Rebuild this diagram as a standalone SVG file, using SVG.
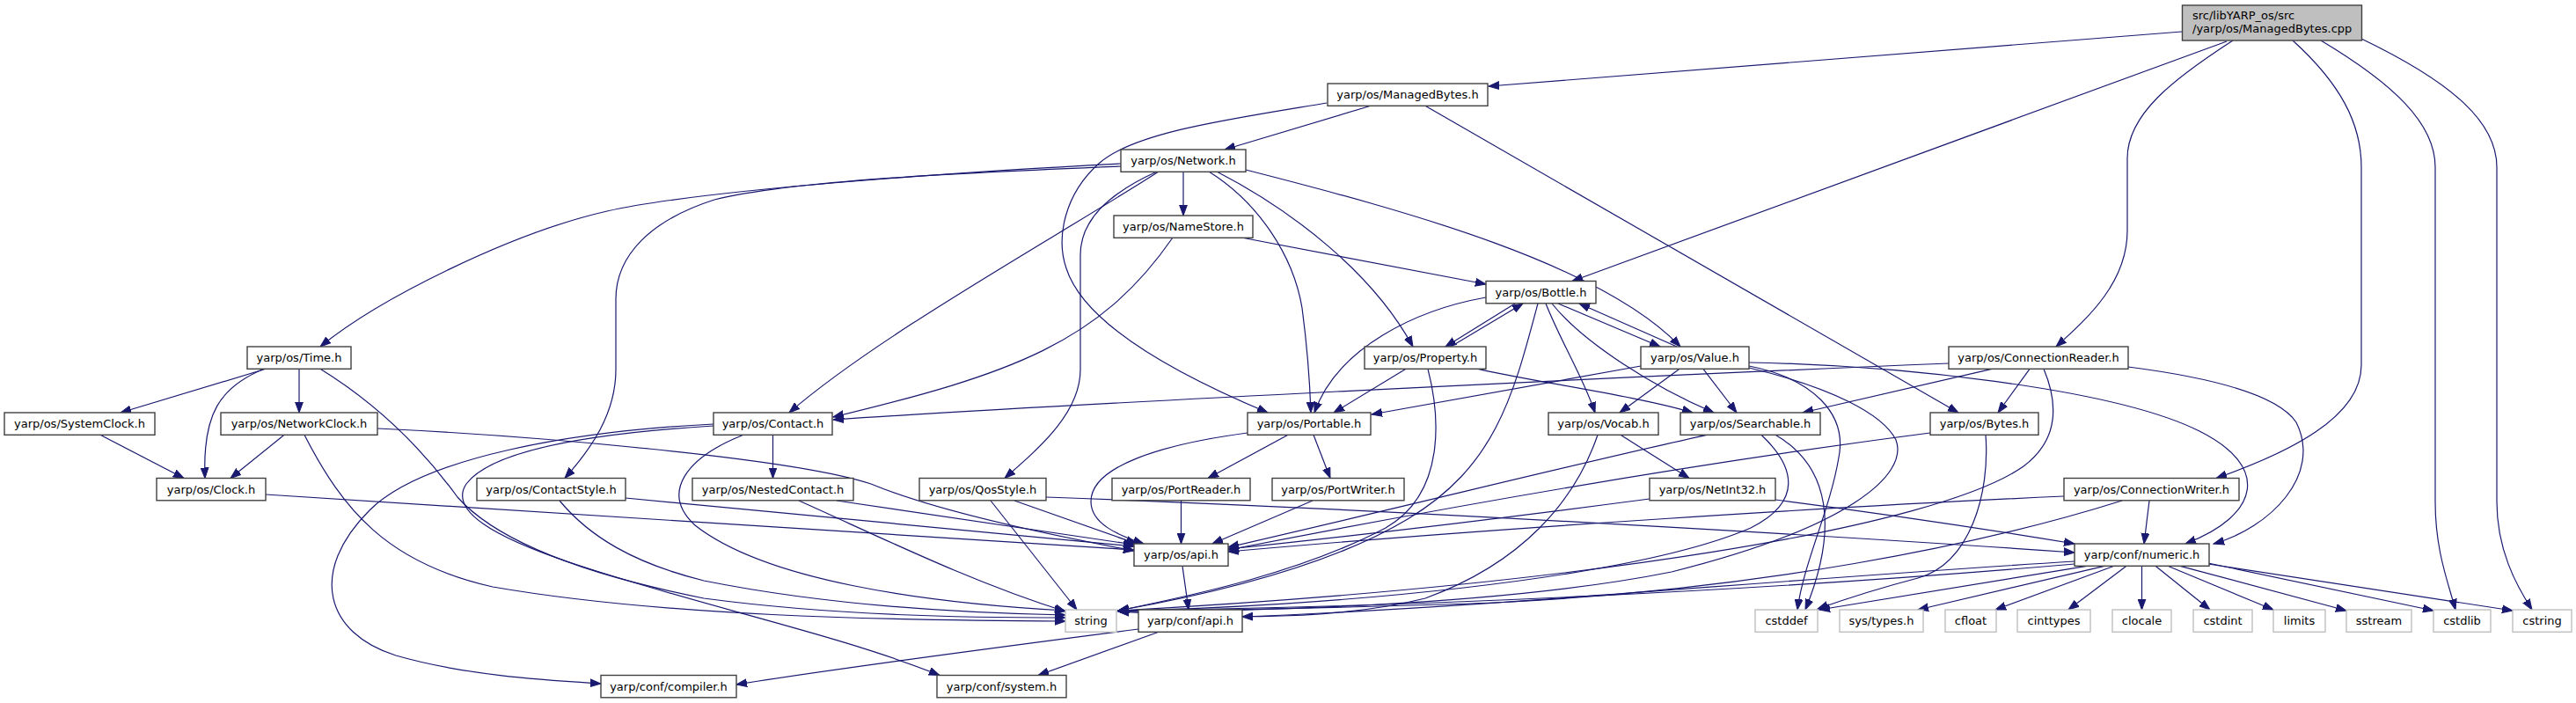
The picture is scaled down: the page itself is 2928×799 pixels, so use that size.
<svg xmlns="http://www.w3.org/2000/svg" width="2928" height="799" viewBox="0 0 2928 799">
<defs>
<style>
.n rect{fill:#fff;stroke:#404040;stroke-width:1.4}
.x rect{fill:#fff;stroke:#bfbfbf;stroke-width:1.4}
.r rect{fill:#bfbfbf;stroke:#404040;stroke-width:1.4}
text{font-family:"DejaVu Sans",Verdana,sans-serif;font-size:13px;fill:#000;text-anchor:middle}
.r text{text-anchor:start}
#edges path{fill:none;stroke:#191970;stroke-width:1.2;marker-end:url(#a)}
</style>
<marker id="a" markerWidth="13" markerHeight="10" refX="12" refY="5" orient="auto" markerUnits="userSpaceOnUse"><path d="M0,0.6 L12,5 L0,9.4 z" fill="#191970" stroke="#191970" stroke-width="1"/></marker>
</defs>
<rect width="2928" height="799" fill="#fff"/>
<g id="edges">
<path d="M2480,36 L1692,98"/>
<path d="M2531,47 L1787,319.5"/>
<path d="M2538,46 C2470,90 2418,130 2418,180 L2418,262 C2418,320 2375,360 2337,394"/>
<path d="M2606,46 C2660,95 2684,140 2684,190 L2684,415 C2684,475 2600,515 2519,543.5"/>
<path d="M2638,46 C2720,95 2768,140 2768,190 L2768,570 C2768,625 2782,660 2791,693"/>
<path d="M2684,44 C2790,95 2838,140 2838,190 L2838,570 C2838,625 2860,665 2878,693"/>
<path d="M1558,120.3 L1392,170"/>
<path d="M1508,117 C1400,135 1290,150 1250,185 C1210,220 1200,270 1212,305 C1228,355 1300,410 1441,469"/>
<path d="M1620,120.3 L2226,469"/>
<path d="M1274,186 C1100,195 800,215 690,240 C580,265 430,340 364,394"/>
<path d="M1274,189 C1100,196 900,205 812,227 C740,250 700,290 700,340 L700,420 C700,470 672,510 642,543.5"/>
<path d="M1317,195 C1200,270 1000,380 897,469"/>
<path d="M1315,195 C1260,220 1228,250 1228,290 L1228,420 C1228,470 1180,510 1142,543.5"/>
<path d="M1345,195.3 L1345,245"/>
<path d="M1374,195 C1430,230 1470,290 1480,350 C1486,395 1489,440 1490,469"/>
<path d="M1383,195 C1470,240 1560,310 1606,394"/>
<path d="M1416,193 C1600,240 1820,300 1910,394"/>
<path d="M1333,270 C1250,390 1150,425 947,474"/>
<path d="M1411,270 L1689,323"/>
<path d="M1689,338 C1610,352 1520,395 1494,469"/>
<path d="M1722,345 L1643,394"/>
<path d="M1649,394 L1731,345"/>
<path d="M1771,345 L1887,394"/>
<path d="M1906,394 L1795,345"/>
<path d="M1757,345 C1775,390 1800,430 1813,469"/>
<path d="M1764,345 C1800,390 1880,440 1948,469"/>
<path d="M1748,345 C1720,450 1700,530 1600,590 C1500,650 1350,680 1271,694"/>
<path d="M1598,419.3 L1516,469"/>
<path d="M1680,419.3 C1750,435 1860,450 1924,469"/>
<path d="M1623,419.3 C1636,470 1645,560 1575,600 C1480,650 1360,676 1271,694"/>
<path d="M1865,416 L1559,471"/>
<path d="M1909,419.3 L1841,469"/>
<path d="M1936,419.3 L1974,469"/>
<path d="M1988,416 C2060,430 2100,470 2090,520 C2080,580 2050,640 2043,693"/>
<path d="M1988,418 C2080,440 2140,470 2155,500 C2170,540 2100,600 1900,650 C1700,690 1400,695 1271,695"/>
<path d="M1988,412 C2150,415 2400,440 2500,490 C2580,530 2570,585 2484,618"/>
<path d="M2215,413 C1800,430 1200,460 947,477"/>
<path d="M2264,419.3 L2049,469"/>
<path d="M2307,419.3 L2271,469"/>
<path d="M2323,419.3 C2340,460 2340,500 2300,530 C2200,600 1800,665 1271,694"/>
<path d="M2419,417 C2520,430 2590,450 2610,480 C2640,540 2580,600 2516,618"/>
<path d="M302,419.3 L137,469"/>
<path d="M300,419.3 C250,440 230,470 233,543.5"/>
<path d="M340,419.3 L340,469"/>
<path d="M364,419.3 C430,460 480,510 520,565 C560,610 650,650 800,680 C950,700 1100,702 1211,702"/>
<path d="M323,494.3 L262,543.5"/>
<path d="M429,487 C600,495 900,520 990,550 C1050,575 1150,600 1289,626"/>
<path d="M346,494.3 C390,580 440,640 560,667 C750,700 1000,705 1211,706"/>
<path d="M114,494.3 L209,543.5"/>
<path d="M302,562 L1289,625"/>
<path d="M878.5,494.3 L878.5,543.5"/>
<path d="M811,482 C650,490 480,520 420,580 C350,650 370,720 450,745 C530,768 620,773 683,777"/>
<path d="M811,484 C680,492 560,510 530,550 C510,580 560,610 650,640 C800,690 950,720 1068,767.5"/>
<path d="M845,494.3 C780,520 750,560 790,597 C870,660 1050,685 1211,694"/>
<path d="M711,566 L1289,621"/>
<path d="M636,569 C670,610 720,640 800,660 C950,690 1100,697 1211,699"/>
<path d="M951,569 L1289,619"/>
<path d="M908,569 C1000,610 1100,660 1211,695"/>
<path d="M1153,569 L1292,618"/>
<path d="M1126,569 L1224,693"/>
<path d="M1189,565 C1600,580 2100,610 2358,628"/>
<path d="M1418,492 C1320,505 1240,530 1240,570 C1240,595 1270,608 1300,618"/>
<path d="M1464,494.3 L1373,543.5"/>
<path d="M1493,494.3 L1512,543.5"/>
<path d="M1342.5,569 L1342.5,618"/>
<path d="M1492,569 L1378,618"/>
<path d="M1842,494.3 L1920,543.5"/>
<path d="M1816,494.3 C1790,570 1730,640 1620,680 C1500,710 1350,700 1271,695"/>
<path d="M1940,494.3 C1800,525 1600,575 1396,622"/>
<path d="M2002,494.3 C2040,530 2050,570 1990,600 C1850,660 1500,690 1271,694"/>
<path d="M2018,494.3 C2080,530 2090,600 2052,693"/>
<path d="M2194,492 C1900,530 1600,585 1396,625"/>
<path d="M2257,494.3 C2262,560 2240,640 2180,657 C2130,670 2100,680 2066,692"/>
<path d="M1875,567 C1700,590 1550,608 1396,624"/>
<path d="M2018,568 C2150,585 2250,600 2358,618"/>
<path d="M2346,564 C2100,575 1700,600 1396,627"/>
<path d="M2412,569 C2250,620 2000,670 1700,685 C1500,692 1350,694 1271,695"/>
<path d="M2443,569 L2437,618"/>
<path d="M1344,643.3 L1351,693"/>
<path d="M1294,715 C1100,740 950,760 837,778"/>
<path d="M1317,718.3 L1180,767.5"/>
<path d="M2358,638 C2000,660 1700,690 1412,701"/>
<path d="M2358,641 C2000,672 1600,690 1271,694"/>
<path d="M2372,643.3 L2068,693"/>
<path d="M2392,643.3 L2180,693"/>
<path d="M2403,643.3 L2268,693"/>
<path d="M2417,643.3 L2351,693"/>
<path d="M2434.5,643.3 L2434.5,693"/>
<path d="M2450,643.3 L2512,693"/>
<path d="M2464,643.3 L2584,693"/>
<path d="M2478,643.3 L2667,694"/>
<path d="M2510,640 L2766,694"/>
<path d="M2510,641 L2856,694"/>
</g>
<g id="root" class="r"><rect x="2480.5" y="6" width="204" height="40"/><text x="2492" y="22">src/libYARP_os/src</text><text x="2492" y="37">/yarp/os/ManagedBytes.cpp</text></g>
<g id="managedbytes" class="n"><rect x="1509" y="95" width="182" height="25.3"/><text x="1600" y="112.2">yarp/os/ManagedBytes.h</text></g>
<g id="network" class="n"><rect x="1274" y="170" width="142" height="25.3"/><text x="1345" y="187.2">yarp/os/Network.h</text></g>
<g id="namestore" class="n"><rect x="1266" y="245" width="158" height="25.3"/><text x="1345" y="262.2">yarp/os/NameStore.h</text></g>
<g id="bottle" class="n"><rect x="1689" y="319.5" width="125" height="25.3"/><text x="1751.5" y="336.7">yarp/os/Bottle.h</text></g>
<g id="time" class="n"><rect x="281" y="394" width="118" height="25.3"/><text x="340" y="411.2">yarp/os/Time.h</text></g>
<g id="property" class="n"><rect x="1551" y="394" width="138" height="25.3"/><text x="1620" y="411.2">yarp/os/Property.h</text></g>
<g id="value" class="n"><rect x="1865" y="394" width="123" height="25.3"/><text x="1926.5" y="411.2">yarp/os/Value.h</text></g>
<g id="connectionreader" class="n"><rect x="2215" y="394" width="204" height="25.3"/><text x="2317" y="411.2">yarp/os/ConnectionReader.h</text></g>
<g id="systemclock" class="n"><rect x="5" y="469" width="171" height="25.3"/><text x="90.5" y="486.2">yarp/os/SystemClock.h</text></g>
<g id="networkclock" class="n"><rect x="251" y="469" width="178" height="25.3"/><text x="340" y="486.2">yarp/os/NetworkClock.h</text></g>
<g id="contact" class="n"><rect x="811" y="469" width="135" height="25.3"/><text x="878.5" y="486.2">yarp/os/Contact.h</text></g>
<g id="portable" class="n"><rect x="1418" y="469" width="140" height="25.3"/><text x="1488" y="486.2">yarp/os/Portable.h</text></g>
<g id="vocab" class="n"><rect x="1760" y="469" width="125" height="25.3"/><text x="1822.5" y="486.2">yarp/os/Vocab.h</text></g>
<g id="searchable" class="n"><rect x="1910" y="469" width="159" height="25.3"/><text x="1989.5" y="486.2">yarp/os/Searchable.h</text></g>
<g id="bytes" class="n"><rect x="2194" y="469" width="123" height="25.3"/><text x="2255.5" y="486.2">yarp/os/Bytes.h</text></g>
<g id="clock" class="n"><rect x="178" y="543.5" width="124" height="25.3"/><text x="240" y="560.7">yarp/os/Clock.h</text></g>
<g id="contactstyle" class="n"><rect x="542" y="543.5" width="169" height="25.3"/><text x="626.5" y="560.7">yarp/os/ContactStyle.h</text></g>
<g id="nestedcontact" class="n"><rect x="787" y="543.5" width="183" height="25.3"/><text x="878.5" y="560.7">yarp/os/NestedContact.h</text></g>
<g id="qosstyle" class="n"><rect x="1045" y="543.5" width="144" height="25.3"/><text x="1117" y="560.7">yarp/os/QosStyle.h</text></g>
<g id="portreader" class="n"><rect x="1264" y="543.5" width="157" height="25.3"/><text x="1342.5" y="560.7">yarp/os/PortReader.h</text></g>
<g id="portwriter" class="n"><rect x="1446" y="543.5" width="150" height="25.3"/><text x="1521" y="560.7">yarp/os/PortWriter.h</text></g>
<g id="netint32" class="n"><rect x="1875" y="543.5" width="143" height="25.3"/><text x="1946.5" y="560.7">yarp/os/NetInt32.h</text></g>
<g id="connectionwriter" class="n"><rect x="2346" y="543.5" width="199" height="25.3"/><text x="2445.5" y="560.7">yarp/os/ConnectionWriter.h</text></g>
<g id="osapi" class="n"><rect x="1289" y="618" width="107" height="25.3"/><text x="1342.5" y="635.2">yarp/os/api.h</text></g>
<g id="numeric" class="n"><rect x="2358" y="618" width="153" height="25.3"/><text x="2434.5" y="635.2">yarp/conf/numeric.h</text></g>
<g id="string" class="x"><rect x="1211" y="693" width="58" height="25.3"/><text x="1240" y="710.2">string</text></g>
<g id="confapi" class="n"><rect x="1294" y="693" width="118" height="25.3"/><text x="1353" y="710.2">yarp/conf/api.h</text></g>
<g id="cstddef" class="x"><rect x="1995" y="693" width="71" height="25.3"/><text x="2030.5" y="710.2">cstddef</text></g>
<g id="systypes" class="x"><rect x="2091" y="693" width="95" height="25.3"/><text x="2138.5" y="710.2">sys/types.h</text></g>
<g id="cfloat" class="x"><rect x="2211" y="693" width="58" height="25.3"/><text x="2240" y="710.2">cfloat</text></g>
<g id="cinttypes" class="x"><rect x="2293" y="693" width="83" height="25.3"/><text x="2334.5" y="710.2">cinttypes</text></g>
<g id="clocale" class="x"><rect x="2401" y="693" width="67" height="25.3"/><text x="2434.5" y="710.2">clocale</text></g>
<g id="cstdint" class="x"><rect x="2493" y="693" width="67" height="25.3"/><text x="2526.5" y="710.2">cstdint</text></g>
<g id="limits" class="x"><rect x="2584" y="693" width="59" height="25.3"/><text x="2613.5" y="710.2">limits</text></g>
<g id="sstream" class="x"><rect x="2667" y="693" width="74" height="25.3"/><text x="2704" y="710.2">sstream</text></g>
<g id="cstdlib" class="x"><rect x="2766" y="693" width="65" height="25.3"/><text x="2798.5" y="710.2">cstdlib</text></g>
<g id="cstring" class="x"><rect x="2856" y="693" width="67" height="25.3"/><text x="2889.5" y="710.2">cstring</text></g>
<g id="compiler" class="n"><rect x="683" y="767.5" width="154" height="25.3"/><text x="760" y="784.7">yarp/conf/compiler.h</text></g>
<g id="system" class="n"><rect x="1065" y="767.5" width="147" height="25.3"/><text x="1138.5" y="784.7">yarp/conf/system.h</text></g>
</svg>
